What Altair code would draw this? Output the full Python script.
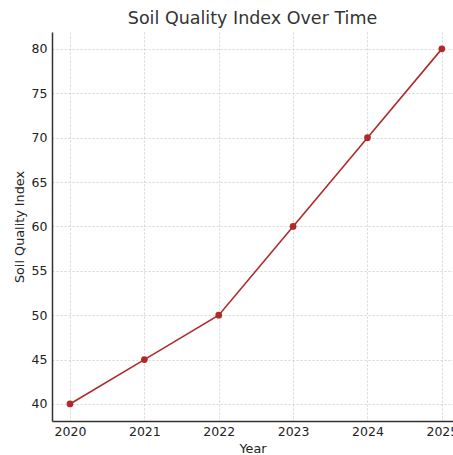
import altair as alt
import pandas as pd

years = [2020, 2021, 2022, 2023, 2024, 2025]
sqi = [40, 45, 50, 60, 70, 80]

df = pd.DataFrame({"Year": years, "SQI": sqi})

FONT = "DejaVu Sans"
COLOR = "#b02a2a"

base = alt.Chart(df).encode(
    x=alt.X(
        "Year:Q",
        scale=alt.Scale(domain=[2019.758, 2025.15], nice=False, zero=False),
        axis=alt.Axis(
            values=years, format="d", title="Year", labelFlush=False,
            labelOverlap=False, labelBound=False,
        ),
    ),
    y=alt.Y(
        "SQI:Q",
        scale=alt.Scale(domain=[38.08, 81.9], nice=False, zero=False),
        axis=alt.Axis(
            values=[40, 45, 50, 55, 60, 65, 70, 75, 80],
            title="Soil Quality Index",
        ),
    ),
)

line = base.mark_line(color=COLOR, strokeWidth=1.6, clip=False)
points = base.mark_circle(color=COLOR, size=45, opacity=1, clip=False)

chart = (
    (line + points)
    .properties(
        width=401,
        height=389,
        title=alt.TitleParams(
            "Soil Quality Index Over Time",
            font=FONT, fontSize=17.5, fontWeight="normal", color="#333333",
            anchor="middle", offset=5,
        ),
        autosize=alt.AutoSizeParams(type="none"),
        padding={"left": 52, "top": 32, "right": 0, "bottom": 34},
    )
    .configure_view(stroke=None)
    .configure_axis(
        labelFont=FONT, titleFont=FONT, labelFontSize=12.5, titleFontSize=12.8,
        labelColor="#222222", titleColor="#222222", titleFontWeight="normal",
        grid=True, gridColor="#cccccc", gridDash=[2, 2], gridWidth=0.8,
        domainColor="#333333", domainWidth=1.5, ticks=False, tickSize=0,
    )
    .configure_axisX(labelPadding=4, titlePadding=5)
    .configure_axisY(labelPadding=5, titlePadding=5)
)

chart.save("out.html", embed_options={"renderer": "svg", "actions": False})
